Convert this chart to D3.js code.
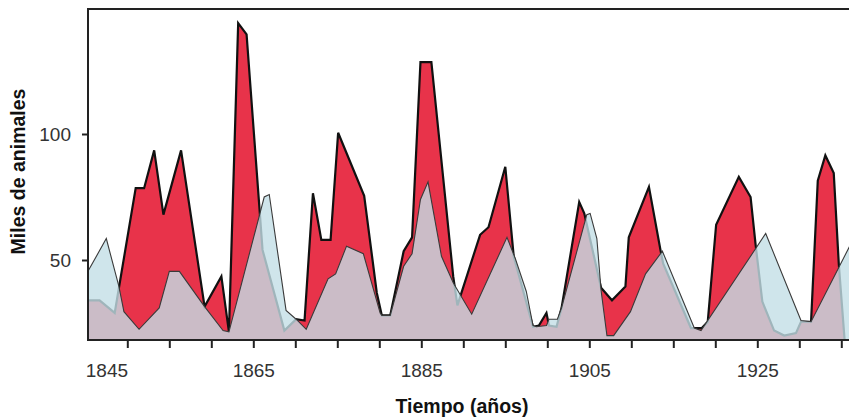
<!DOCTYPE html>
<html>
<head>
<meta charset="utf-8">
<script src="https://cdn.jsdelivr.net/npm/d3@7"></script>
<style>
body { margin: 0; background: #fff; }
</style>
</head>
<body>
<div id="chart-area"></div>
<script>
// liebres (rojo) y linces (azul), miles de animales
const hareYears = [1845.4, 1846.7, 1848.5, 1851.0, 1852.0, 1853.2, 1854.3, 1856.4, 1859.2, 1861.2,
    1862.1, 1863.2, 1864.2, 1866.1, 1868.7, 1870.1, 1871.1, 1872.1, 1873.1, 1874.2,
    1875.1, 1878.2, 1879.7, 1880.3, 1881.3, 1882.9, 1883.9, 1884.9, 1886.2, 1888.8,
    1889.3, 1892.0, 1893.0, 1895.0, 1896.0, 1898.3, 1899.0, 1899.9, 1900.2, 1901.1,
    1901.7, 1903.8, 1904.4, 1906.4, 1907.7, 1909.3, 1909.7, 1912.1, 1913.5, 1913.8,
    1917.1, 1918.4, 1919.1, 1920.1, 1922.8, 1924.2, 1924.8, 1925.6, 1927.0, 1928.2,
    1929.6, 1930.2, 1931.4, 1932.2, 1933.1, 1934.1, 1934.7, 1935.4, 1936.0];
const hareValues = [34, 34, 29, 78.5, 78.5, 93.5, 68, 93.5, 31.5, 43.5,
    21.5, 144, 139.5, 54, 22, 26.5, 26, 76.5, 58, 58,
    100.5, 75.5, 37, 28, 28, 53.5, 59, 128.5, 128.5, 43.5,
    32, 60, 63, 87, 51.5, 23.5, 24, 29, 24, 23.5,
    31, 73, 68.5, 39, 34, 39.5, 59, 79, 53.5, 48.5,
    23, 23, 25.5, 64, 83, 75, 56, 33.5, 22, 20,
    21, 25.5, 25.5, 81.5, 91.5, 84.5, 48.5, 18, 18];

const lynxYears = [1845.4, 1847.5, 1849.0, 1849.6, 1851.4, 1853.8, 1855.0, 1856.2, 1859.2, 1861.4,
    1862.1, 1866.3, 1866.9, 1868.9, 1870.1, 1871.3, 1873.9, 1874.8, 1876.1, 1878.1,
    1880.1, 1880.3, 1881.3, 1882.9, 1883.9, 1884.9, 1885.8, 1887.4, 1888.8, 1891.0,
    1895.2, 1896.2, 1897.5, 1898.3, 1898.7, 1899.9, 1900.2, 1901.2, 1901.7, 1904.7,
    1905.1, 1905.9, 1906.4, 1907.1, 1907.9, 1909.9, 1911.7, 1913.7, 1917.5, 1918.3,
    1926.0, 1930.2, 1931.4, 1936.0];
const lynxValues = [46, 58.5, 39.5, 29.5, 22.5, 31, 45.5, 45.5, 31.5, 22,
    21.5, 75, 76, 30, 26.5, 22.5, 42.5, 44.5, 55.5, 52.5,
    29, 28, 28, 47.5, 52.5, 74, 81, 51.5, 41, 28.5,
    59, 50.5, 37.5, 24, 23.5, 24, 26.5, 26.5, 31, 68,
    68.5, 58.5, 38, 20, 20, 29.5, 44.5, 53.5, 23, 22,
    60.5, 26, 25.5, 55.5];

const tickYears = d3.range(1845, 1936, 5);
const labelYears = [1845, 1865, 1885, 1905, 1925];
const yTicks = [50, 100];

const width = 849, height = 418;
const plotLeft = 88, plotTop = 9, plotRight = 849, plotBottom = 340;
const font = 'Liberation Sans, Arial, Helvetica, sans-serif';

let svg = d3.select('#chart-area').append('svg').attr('width', width).attr('height', height);

let x = d3.scaleLinear().domain([1845, 1935]).range([85.3, 841.3]);
let y = d3.scaleLinear().domain([50, 100]).range([260, 134]);

let hare = hareYears.map((yr, i) => ({ year: yr, value: hareValues[i] }));
let lynx = lynxYears.map((yr, i) => ({ year: yr, value: lynxValues[i] }));

svg.append('clipPath').attr('id', 'plot-clip')
    .append('rect')
    .attr('x', plotLeft).attr('y', plotTop)
    .attr('width', plotRight - plotLeft).attr('height', plotBottom - plotTop);

let area = d3.area()
    .x((d) => { return x(d.year); })
    .y0(plotBottom)
    .y1((d) => { return y(d.value); });

let line = d3.line()
    .x((d) => { return x(d.year); })
    .y((d) => { return y(d.value); });

let plot = svg.append('g').attr('clip-path', 'url(#plot-clip)');

plot.append('path').datum(hare)
    .attr('d', area)
    .attr('fill', '#e8334a');
plot.append('path').datum(hare)
    .attr('d', line)
    .attr('fill', 'none')
    .attr('stroke', '#111')
    .attr('stroke-width', 2.2)
    .attr('stroke-linejoin', 'miter');

plot.append('path').datum(lynx)
    .attr('d', area)
    .attr('fill', '#c3dee6')
    .attr('fill-opacity', 0.8);
plot.append('path').datum(lynx)
    .attr('d', line)
    .attr('fill', 'none')
    .attr('stroke', '#3a3a3a')
    .attr('stroke-width', 1.1);

// marco
let frame = svg.append('g').attr('stroke', '#222').attr('stroke-width', 2);
frame.append('line').attr('x1', plotLeft).attr('x2', plotRight).attr('y1', plotTop).attr('y2', plotTop);
frame.append('line').attr('x1', plotLeft).attr('x2', plotLeft).attr('y1', plotTop - 1).attr('y2', plotBottom + 1);
frame.append('line').attr('x1', plotLeft - 1).attr('x2', plotRight).attr('y1', plotBottom).attr('y2', plotBottom);

let xAxis = d3.axisBottom(x)
    .tickValues(tickYears)
    .tickSize(8)
    .tickSizeOuter(0)
    .tickPadding(16)
    .tickFormat((d) => { return labelYears.includes(d) ? String(d) : ''; });

let gx = svg.append('g')
    .attr('transform', `translate(0,${plotBottom})`)
    .call(xAxis)
    .attr('font-family', font)
    .attr('font-size', 19);
gx.select('.domain').remove();
gx.selectAll('.tick line').attr('stroke', '#222').attr('stroke-width', 2);
gx.selectAll('.tick text').attr('fill', '#333');
let first = gx.selectAll('.tick').filter((d) => { return d === 1845; });
first.select('line').remove();
first.select('text').attr('text-anchor', 'start');

let yAxis = d3.axisLeft(y)
    .tickValues(yTicks)
    .tickSize(6)
    .tickSizeOuter(0)
    .tickPadding(11);

let gy = svg.append('g')
    .attr('transform', `translate(${plotLeft},0)`)
    .call(yAxis)
    .attr('font-family', font)
    .attr('font-size', 19);
gy.select('.domain').remove();
gy.selectAll('.tick line').attr('stroke', '#222').attr('stroke-width', 2);
gy.selectAll('.tick text').attr('fill', '#333');

svg.append('text')
    .attr('x', 462).attr('y', 413)
    .attr('text-anchor', 'middle')
    .attr('font-family', font)
    .attr('font-weight', 'bold')
    .attr('font-size', 19.5)
    .attr('fill', '#111')
    .text('Tiempo (años)');

svg.append('text')
    .attr('transform', 'translate(25,171.5) rotate(-90)')
    .attr('text-anchor', 'middle')
    .attr('font-family', font)
    .attr('font-weight', 'bold')
    .attr('font-size', 19.5)
    .attr('fill', '#111')
    .text('Miles de animales');
</script>
</body>
</html>
